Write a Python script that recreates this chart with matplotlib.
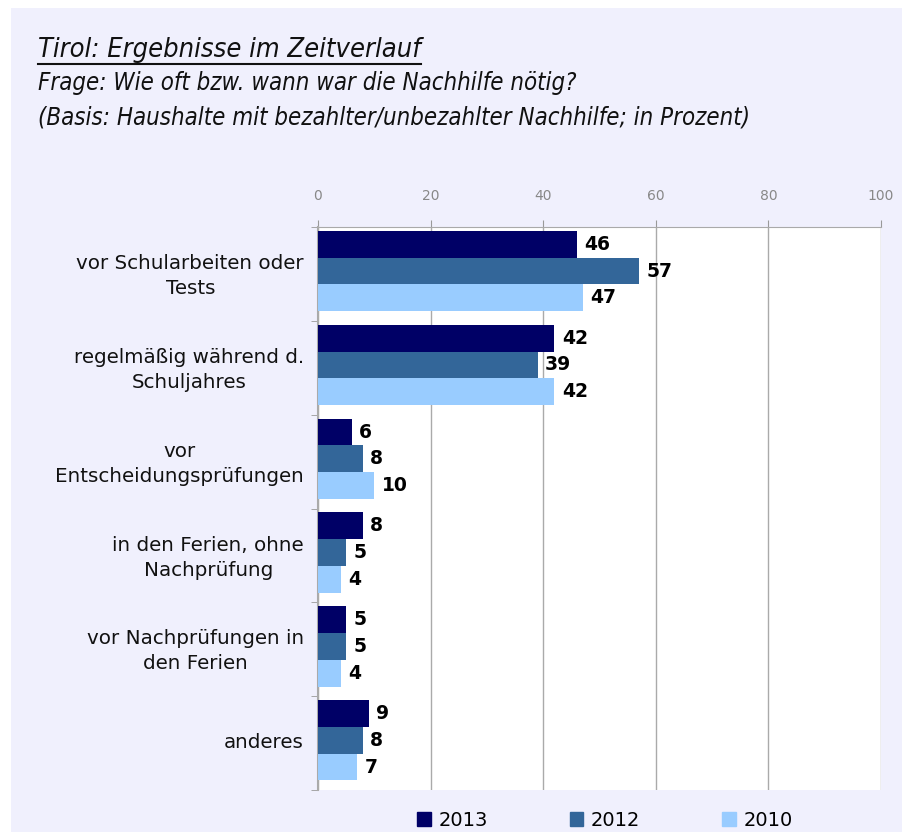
import matplotlib
matplotlib.use("Agg")
import matplotlib.pyplot as plt
from matplotlib.lines import Line2D
from matplotlib.patches import Rectangle
import numpy as np

categories = ["vor Schularbeiten oder\nTests",
              "regelmäßig während d.\nSchuljahres",
              "vor\nEntscheidungsprüfungen",
              "in den Ferien, ohne\nNachprüfung",
              "vor Nachprüfungen in\nden Ferien",
              "anderes"]
years = ["2013", "2012", "2010"]
v2013 = [46, 42, 6, 8, 5, 9]
v2012 = [57, 39, 8, 5, 5, 8]
v2010 = [47, 42, 10, 4, 4, 7]
colors = ["#000066", "#336699", "#99ccff"]

fig = plt.figure(figsize=(9.02, 8.32), dpi=100)
fig.patch.set_facecolor("white")
# lavender panel
fig.patches.append(Rectangle((11/902, 0), 1 - 11/902, 1 - 8/832, transform=fig.transFigure,
                             facecolor="#f0f0fd", edgecolor="none", zorder=-10))

ax = fig.add_axes([318/902, 1 - 790/832, (881-318)/902, (790-227)/832])
ax.set_facecolor("white")

y = np.arange(len(categories))
h = 0.285
for i, (vals, c, yr) in enumerate(zip([v2013, v2012, v2010], colors, years)):
    bars = ax.barh(y + (i - 1) * h - 0.03, vals, height=h, color=c, label=yr, zorder=3)
    for b, v in zip(bars, vals):
        ax.text(v + 1.3, b.get_y() + b.get_height() / 2, str(v), va="center", ha="left",
                fontsize=13.5, fontweight="bold", color="black", zorder=4)

ax.set_xlim(0, 100)
ax.set_ylim(len(categories) - 0.5, -0.5)
ax.xaxis.tick_top()
ax.set_xticks([0, 20, 40, 60, 80, 100])
ax.tick_params(axis="x", colors="#999999", labelcolor="#888888", labelsize=10, length=5, pad=12)
ax.grid(axis="x", color="#aaaaaa", linewidth=1, zorder=0)

ax.set_yticks(np.arange(len(categories) + 1) - 0.5, minor=True)
ax.set_yticks(y - 0.03)
ax.set_yticklabels(categories, fontsize=14.3, color="#111111", linespacing=1.4)
ax.tick_params(axis="y", which="major", length=0, pad=10)
ax.tick_params(axis="y", which="minor", length=5, color="#999999")
for lbl in ax.get_yticklabels():
    lbl.set_multialignment("center")

for s in ["right", "bottom"]:
    ax.spines[s].set_visible(False)
ax.spines["top"].set_color("#aaaaaa")
ax.spines["left"].set_color("#aaaaaa")
ax.spines["left"].set_linewidth(1.5)

t = fig.text(38/902, 1 - 57/832, "Tirol: Ergebnisse im Zeitverlauf", fontsize=19.5,
             fontstyle="italic", fontstretch="condensed", fontweight="medium", color="#111111")
fig.text(38/902, 1 - 90/832, "Frage: Wie oft bzw. wann war die Nachhilfe nötig?", fontsize=17.2,
         fontstyle="italic", fontstretch="condensed", color="#111111")
fig.text(38/902, 1 - 124/832, "(Basis: Haushalte mit bezahlter/unbezahlter Nachhilfe; in Prozent)",
         fontsize=17.2, fontstyle="italic", fontstretch="condensed", color="#111111")

# underline the title
fig.canvas.draw()
bb = t.get_window_extent().transformed(fig.transFigure.inverted())
fig.add_artist(Line2D([bb.x0, bb.x1], [bb.y0 - 1/832, bb.y0 - 1/832], color="#111111",
                      linewidth=1.5, transform=fig.transFigure))

handles = [Rectangle((0, 0), 1, 1, color=c) for c in colors]
fig.legend(handles, years, loc="center", bbox_to_anchor=(605/902, 1 - 820/832), ncol=3,
           frameon=False, fontsize=14, handlelength=0.7, handleheight=0.7,
           handletextpad=0.4, columnspacing=4.2)

fig.savefig("out.png", dpi=100, facecolor=fig.get_facecolor())
